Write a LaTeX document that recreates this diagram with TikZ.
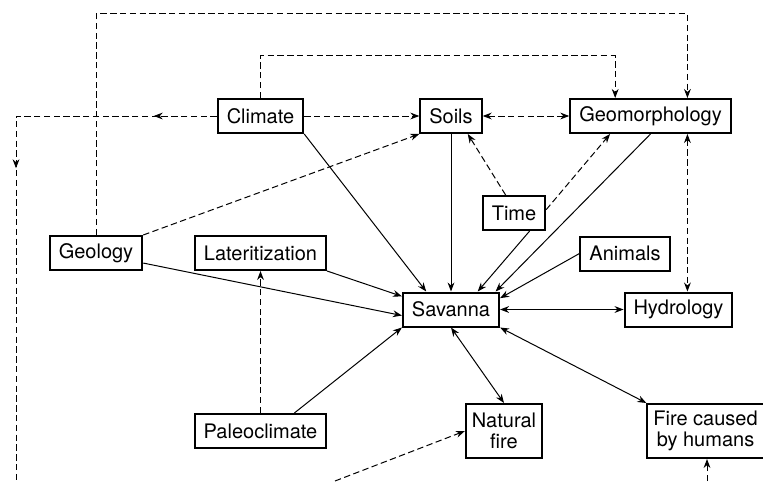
\documentclass[tikz,border=0pt]{standalone}
\usepackage{fontspec}
\setmainfont{TeX Gyre Heros}
\usetikzlibrary{arrows.meta,decorations.markings}

\begin{document}
\begin{tikzpicture}[
    x=0.5pt, y=-0.5pt,
    box/.style={draw, line width=1pt, minimum height=17pt, inner xsep=4.5pt, inner ysep=2pt, align=center, font=\fontsize{10}{10.5}\selectfont, fill=white},
    twoline/.style={box, minimum height=27pt, inner xsep=3pt},
    link/.style={line width=0.5pt},
    dep/.style={link, dash pattern=on 3.2pt off 1.7pt},
    >={Stealth[length=4.5pt,width=3.4pt]},
    midarrows/.style={postaction={decorate}, decoration={markings,
        mark=at position 31.5pt with {\arrow{>}},
        mark=at position 126.5pt with {\arrow{>}}}}
]

\useasboundingbox (0,0) rectangle (763,481);

% ---- top row ----
\node[box] (climate) at (260.5,116) {Climate};
\node[box] (soils) at (451,116) {Soils};
\node[box] (geomorph) at (650.5,116) {Geomorphology};

% ---- middle ----
\node[box] (time) at (514,213) {Time};
\node[box] (geology) at (96,253) {Geology};
\node[box] (lat) at (260.5,253) {Lateritization};
\node[box] (animals) at (625,253.5) {Animals};
\node[box] (savanna) at (451,309.5) {Savanna};
\node[box] (hydro) at (678.5,309.5) {Hydrology};

% ---- bottom row ----
\node[box] (paleo) at (260.5,431) {Paleoclimate};
\node[twoline] (nfire) at (504,431) {Natural\\fire};
\node[twoline] (hfire) at (705.5,431) {Fire caused\\by humans};

% loose ends running off the lower edge
\coordinate (lowleft) at (16,481);
\coordinate (nfin) at (335,481);
\coordinate (hfin) at (707,481);

% arrows into savanna
\draw[link,->] (climate.south east) -- (savanna.144);
\draw[link,->] (soils.south) -- (savanna.north);
\draw[link,->] (time.311) -- (savanna.34);
\draw[link,->] (geomorph.south) -- (savanna.22);
\draw[link,->] (animals.west) -- (savanna.13);
\draw[link,->] (lat.south east) -- (savanna.165);
\draw[link,->] (geology.348) -- (savanna.187);
\draw[link,->] (paleo.28) -- (savanna.south west);
\draw[link,<->] (savanna.east) -- (hydro.west);
\draw[link,<->] (savanna.south) -- (nfire.north);
\draw[link,<->] (savanna.south east) -- (hfire.north west);

% dashed influences
\draw[dep,->] (climate.east) -- (soils.west);
\draw[dep,<->] (soils.east) -- (geomorph.west);
\draw[dep,->] (time.115) -- (soils.313);
\draw[dep,->] (time.6) -- (geomorph.204);
\draw[dep,->] (geology.north east) -- (soils.south west);
\draw[dep,->] (paleo.north) -- (lat.south);
\draw[dep,<->] (geomorph.334) -- (geomorph.334 |- hydro.north);
\draw[dep,->] (climate.north) -- ++(0,-42) -| (geomorph.153);
\draw[dep,->] (geology.north) -- ++(0,-221) -| (geomorph.26);
\draw[dep,midarrows] (climate.west) -- (climate.west -| lowleft) -- (lowleft);
\draw[dep,->] (nfin) -- (nfire.west);
\draw[dep,->] (hfin) -- (hfin |- hfire.south);

\end{tikzpicture}
\end{document}
